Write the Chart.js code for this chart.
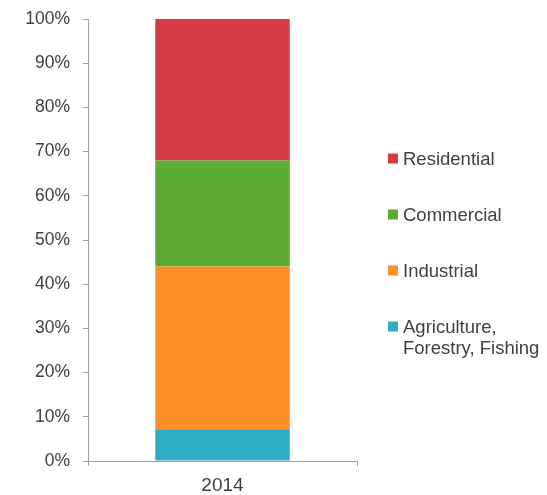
<!DOCTYPE html>
<html>
<head>
<meta charset="utf-8">
<style>
  html, body { margin: 0; padding: 0; background: #ffffff; }
  #wrap { width: 547px; height: 495px; }
</style>
<script src="https://cdn.jsdelivr.net/npm/chart.js@4/dist/chart.umd.min.js"></script>
</head>
<body>
<div id="wrap"><canvas id="chartSektor" width="547" height="495"></canvas></div>
<script>
// share of consumption by sector
var years = ['2014'];
var sectors = ['Agriculture,\nForestry, Fishing', 'Industrial', 'Commercial', 'Residential'];
var shares = [7, 37, 24, 32];
var sectorColors = ['#2eacc6', '#fb8f28', '#5bab34', '#d63a43'];
var yTicks = [0, 10, 20, 30, 40, 50, 60, 70, 80, 90, 100];

(function(){
'use strict';

var FONT = '"Liberation Sans", Arial, sans-serif';
var TEXT = '#404040';
var AXIS = '#a0a0a0';

// legend on the right, top item first (reverse of stack order)
var sideLegend = {
  id: 'sideLegend',
  afterDraw: function(chart){
    var ctx = chart.ctx;
    var area = chart.chartArea;
    var x = area.right + 31;
    var y = area.top + 139.5;
    ctx.save();
    ctx.font = '18.5px ' + FONT;
    ctx.textBaseline = 'middle';
    ctx.textAlign = 'left';
    for(var i = chart.data.datasets.length - 1; i >= 0; i--){
      var ds = chart.data.datasets[i];
      ctx.fillStyle = ds.backgroundColor;
      ctx.fillRect(x, y - 5, 10, 10);
      ctx.fillStyle = TEXT;
      String(ds.label).split('\n').forEach(function(line, k){
        ctx.fillText(line, x + 15, y + 1 + k * 21);
      });
      y += 56;
    }
    ctx.restore();
  }
};

new Chart(document.getElementById('chartSektor'), {
  type: 'bar',
  data: {
    labels: years,
    datasets: sectors.map(function(name, i){
      return {
        label: name,
        data: [shares[i]],
        backgroundColor: sectorColors[i],
        borderWidth: 0,
        barPercentage: 0.5,
        categoryPercentage: 1.0
      };
    })
  },
  options: {
    responsive: false,
    animation: false,
    layout: { padding: { top: 19, right: 190, left: 0, bottom: 0 } },
    plugins: { legend: { display: false }, tooltip: { enabled: false } },
    scales: {
      x: {
        stacked: true,
        grid: { drawOnChartArea: false, tickLength: 5, color: AXIS, offset: true },
        border: { color: AXIS, width: 1 },
        ticks: { color: TEXT, font: { family: FONT, size: 19 }, padding: 8 },
        afterFit: function(scale){ scale.height = 34; }
      },
      y: {
        stacked: true,
        min: 0,
        max: 100,
        afterBuildTicks: function(scale){
          scale.ticks = yTicks.map(function(v){ return { value: v }; });
        },
        grid: { drawOnChartArea: false, tickLength: 5, color: AXIS },
        border: { color: AXIS, width: 1 },
        ticks: {
          color: TEXT,
          font: { family: FONT, size: 17.5 },
          padding: 13,
          callback: function(v){ return v + '%'; }
        },
        afterFit: function(scale){
          scale.width = 88;
          scale.paddingTop = 0;
          scale.paddingBottom = 0;
        }
      }
    }
  },
  plugins: [sideLegend]
});
})();
</script>
</body>
</html>
